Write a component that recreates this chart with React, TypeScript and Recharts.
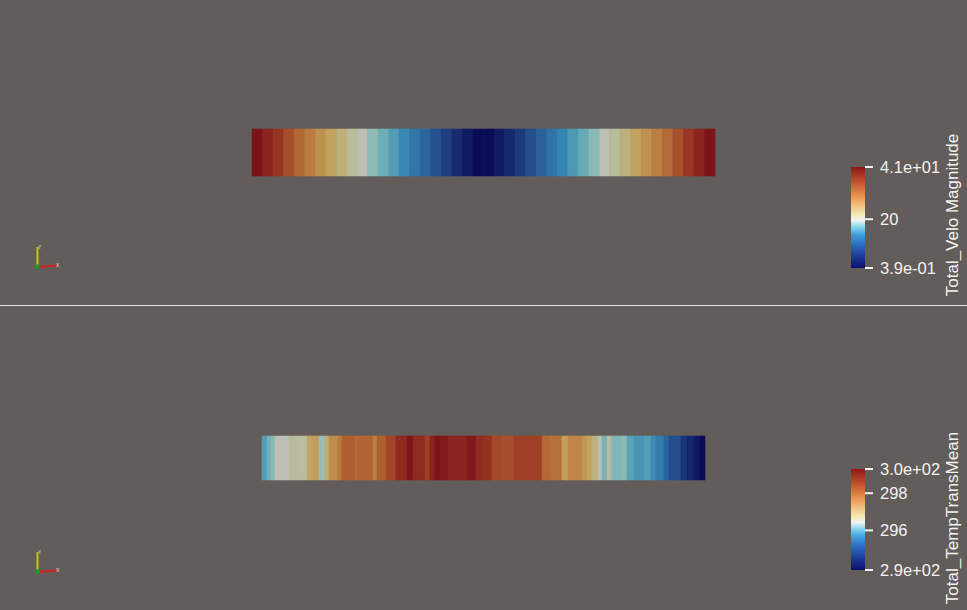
import React from "react";
import { BarChart, Bar, XAxis, YAxis } from "recharts";

// top view: Total_Velo Magnitude, one value per cell, left to right
const veloCells = [
  41.0, 39.0, 37.0, 35.0, 33.0, 31.0, 29.0, 27.0, 25.0, 23.0, 20.7, 18.6, 16.8, 15.0, 13.2, 11.4, 9.5,
  7.7, 5.9, 4.1, 2.2, 0.4, 0.4, 2.1, 3.9, 5.6, 7.4, 9.2, 11.0, 12.8, 14.6, 16.4, 18.3, 20.5, 22.9, 24.9,
  26.9, 28.9, 30.8, 32.8, 34.8, 36.8, 38.8, 40.9,
];
const veloRange = [0.39, 41.0];
const veloTicks = [0.39, 20, 41.0];
const veloTickLabels = ["3.9e-01", "20", "4.1e+01"];

// bottom view: Total_TempTransMean, band lengths along the bar and their values
const tempWidths = [
  5, 4, 4, 14, 8, 10, 4, 4, 4, 6, 4, 9, 4, 13, 3, 15, 4, 9, 10, 11, 6, 12, 5, 5, 5, 8, 19, 9, 6, 10, 10,
  12, 28, 7, 13, 6, 14, 5, 5, 6, 4, 5, 4, 3, 7, 6, 7, 10, 7, 5, 8, 5, 12, 6, 7, 6, 5,
];
const tempCells = [
  295.83, 296.1, 296.26, 296.59, 296.91, 296.8, 297.4, 297.45, 297.51, 296.37, 297.24, 297.73, 298.0,
  298.32, 298.16, 298.27, 297.89, 298.32, 298.59, 298.92, 299.25, 298.92, 298.65, 299.03, 299.3, 299.19,
  299.03, 299.19, 298.87, 298.81, 298.54, 298.49, 298.65, 298.21, 298.11, 297.45, 297.83, 297.62, 297.4,
  297.13, 296.59, 296.15, 296.75, 296.26, 296.2, 296.26, 295.88, 295.72, 295.83, 295.61, 295.44, 295.06,
  294.79, 294.52, 294.3, 294.09, 293.87,
];
const tempRange = [293.87, 299.3];
const tempTicks = [293.87, 296, 298, 299.3];
const tempTickLabels = ["2.9e+02", "296", "298", "3.0e+02"];

const BG = "#625d5a";
const FONT = "'Liberation Sans', Arial, sans-serif";

// shaded colours as they appear on the surface
const surfaceStops: [number, string][] = [
  [0.0, "#0a0c58"],
  [0.1, "#182e70"],
  [0.2, "#2a5a98"],
  [0.3, "#3282b0"],
  [0.38, "#5ea6b8"],
  [0.44, "#88bab6"],
  [0.5, "#bdbfb6"],
  [0.56, "#b8bc96"],
  [0.64, "#c2a864"],
  [0.72, "#c08a4a"],
  [0.82, "#b06030"],
  [0.9, "#983424"],
  [1.0, "#7a1418"],
];

// unlit colours for the scalar bars
const barStops: [number, string][] = [
  [0.0, "#0c1070"],
  [0.1, "#1a3494"],
  [0.22, "#2a66c4"],
  [0.33, "#3ca0e2"],
  [0.41, "#8cd8f0"],
  [0.47, "#eef4f2"],
  [0.53, "#f4e8b4"],
  [0.62, "#f2c07c"],
  [0.72, "#e8904c"],
  [0.85, "#c8502e"],
  [1.0, "#8e1616"],
];

const hex = (c: string) => [1, 3, 5].map((i) => parseInt(c.slice(i, i + 2), 16));

function mapColor(t: number) {
  const u = Math.max(0, Math.min(1, t));
  for (let i = 1; i < surfaceStops.length; i++) {
    const [t1, c1] = surfaceStops[i];
    const [t0, c0] = surfaceStops[i - 1];
    if (u <= t1) {
      const f = (u - t0) / (t1 - t0);
      const a = hex(c0);
      const b = hex(c1);
      const rgb = a.map((v, k) => Math.round(v + (b[k] - v) * f));
      return `rgb(${rgb.join(",")})`;
    }
  }
  return surfaceStops[surfaceStops.length - 1][1];
}

function Strip({ widths, values, range, width, height, margin }: any) {
  const row: any = { name: "strip" };
  widths.forEach((w: number, i: number) => (row[`c${i}`] = w));
  const total = widths.reduce((s: number, w: number) => s + w, 0);
  return (
    <BarChart
      width={width}
      height={height}
      data={[row]}
      layout="vertical"
      margin={margin}
      barCategoryGap={0}
      barGap={0}
    >
      <XAxis type="number" domain={[0, total]} hide />
      <YAxis type="category" dataKey="name" hide />
      {values.map((v: number, i: number) => {
        const col = mapColor((v - range[0]) / (range[1] - range[0]));
        return (
          <Bar
            key={i}
            dataKey={`c${i}`}
            stackId="s"
            fill={col}
            stroke={col}
            strokeWidth={0.6}
            isAnimationActive={false}
          />
        );
      })}
    </BarChart>
  );
}

function ScalarBar({ id, range, ticks, labels, style }: any) {
  const fmt = (v: number) => labels[ticks.indexOf(v)] ?? String(v);
  return (
    <div style={{ position: "absolute", ...style }}>
      <BarChart
        width={120}
        height={121}
        data={[{ name: "bar", span: range }]}
        margin={{ top: 10, right: 0, bottom: 10, left: 0 }}
        barCategoryGap={0}
      >
        <defs>
          <linearGradient id={id} x1="0" y1="1" x2="0" y2="0">
            {barStops.map(([t, c]) => (
              <stop key={t} offset={t} stopColor={c} />
            ))}
          </linearGradient>
        </defs>
        <XAxis dataKey="name" hide />
        <YAxis
          orientation="right"
          type="number"
          domain={range}
          allowDataOverflow
          ticks={ticks}
          interval={0}
          width={106}
          axisLine={false}
          tickSize={8}
          tickMargin={7}
          tickLine={{ stroke: "#f2f2f2", strokeWidth: 2 }}
          tick={{ fill: "#f2f2f2", fontSize: 16.5, fontFamily: FONT }}
          tickFormatter={fmt}
        />
        <Bar dataKey="span" fill={`url(#${id})`} isAnimationActive={false} />
      </BarChart>
    </div>
  );
}

function AxesGlyph({ dy }: { dy: number }) {
  return (
    <g transform={`translate(0, ${dy})`}>
      <line x1={37.5} y1={247} x2={37.5} y2={266} stroke="#c8c020" strokeWidth={2} />
      <line x1={38} y1={267} x2={57} y2={265.5} stroke="#d02020" strokeWidth={2} />
      <circle cx={37.5} cy={266.5} r={2.2} fill="#1e9a28" />
      <text x={38} y={249} fontSize={5} fill="#e8e0d0" fontFamily={FONT}>Y</text>
      <text x={56} y={267} fontSize={5} fill="#e8e0d0" fontFamily={FONT}>X</text>
    </g>
  );
}

export default function App() {
  return (
    <div
      style={{
        position: "absolute",
        left: 0,
        top: 0,
        width: 967,
        height: 610,
        background: BG,
        overflow: "hidden",
        fontFamily: FONT,
      }}
    >
      <div style={{ position: "absolute", left: 0, top: 0 }}>
        <Strip
          widths={veloCells.map(() => 1)}
          values={veloCells}
          range={veloRange}
          width={967}
          height={305}
          margin={{ top: 129, right: 252, bottom: 129, left: 252 }}
        />
      </div>
      <div style={{ position: "absolute", left: 0, top: 306 }}>
        <Strip
          widths={tempWidths}
          values={tempCells}
          range={tempRange}
          width={967}
          height={304}
          margin={{ top: 130, right: 262, bottom: 130, left: 262 }}
        />
      </div>

      <ScalarBar id="veloGrad" range={veloRange} ticks={veloTicks} labels={veloTickLabels} style={{ left: 851, top: 157 }} />
      <ScalarBar id="tempGrad" range={tempRange} ticks={tempTicks} labels={tempTickLabels} style={{ left: 851, top: 459 }} />

      <svg width={967} height={610} style={{ position: "absolute", left: 0, top: 0, pointerEvents: "none" }}>
        <line x1={0} y1={305.5} x2={967} y2={305.5} stroke="#e4e4e4" strokeWidth={1} />
        <AxesGlyph dy={0} />
        <AxesGlyph dy={305} />
        <text
          x={958}
          y={215}
          transform="rotate(-90, 958, 215)"
          textAnchor="middle"
          fontSize={17}
          fill="#f2f2f2"
          fontFamily={FONT}
        >
          Total_Velo Magnitude
        </text>
        <text
          x={958}
          y={518}
          transform="rotate(-90, 958, 518)"
          textAnchor="middle"
          fontSize={17}
          fill="#f2f2f2"
          fontFamily={FONT}
        >
          Total_TempTransMean
        </text>
      </svg>
    </div>
  );
}
